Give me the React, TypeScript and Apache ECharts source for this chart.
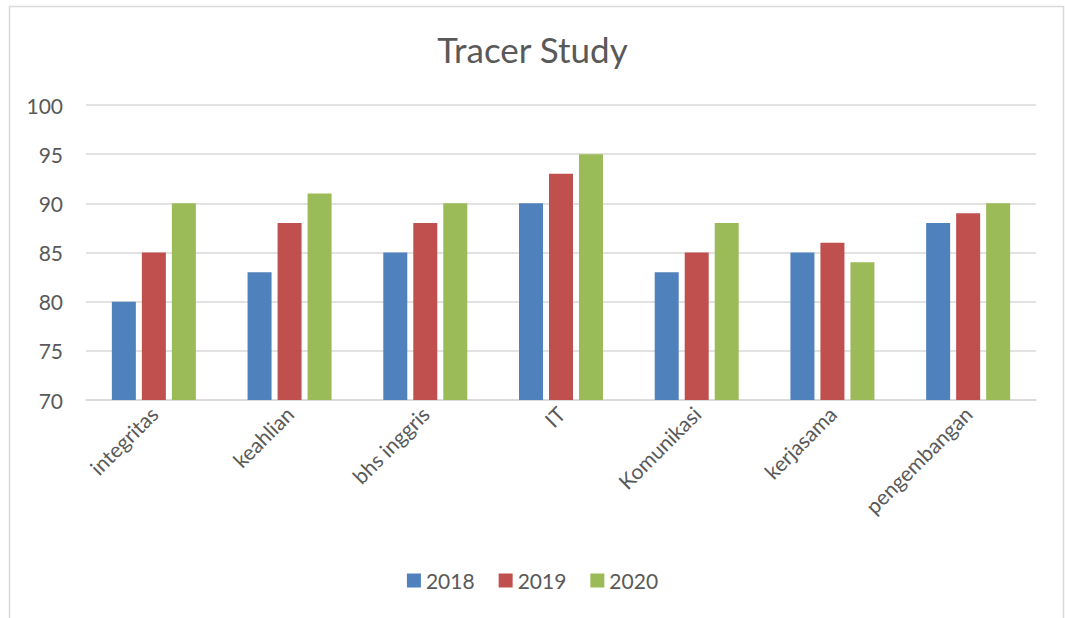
import React, { useEffect, useRef } from "react";
import * as echarts from "echarts";

const categories = ["integritas", "keahlian", "bhs inggris", "IT", "Komunikasi", "kerjasama", "pengembangan"];
const s2018 = [80, 83, 85, 90, 83, 85, 88];
const s2019 = [85, 88, 88, 93, 85, 86, 89];
const s2020 = [90, 91, 90, 95, 88, 84, 90];
const seriesNames = ["2018", "2019", "2020"];
const colors = ["#4F81BD", "#C0504D", "#9BBB59"];

export default function App() {
  const ref = useRef<HTMLDivElement>(null);
  useEffect(() => {
    if (!ref.current) return;
    const chart = echarts.init(ref.current, undefined, { renderer: "svg" });
    const font = "Lato, 'Open Sans', sans-serif";
    const data = [s2018, s2019, s2020];
    chart.setOption({
      animation: false,
      backgroundColor: "#ffffff",
      textStyle: { fontFamily: font },
      title: {
        text: "Tracer Study",
        left: "center",
        top: 26,
        textStyle: { fontSize: 35, fontWeight: "normal", color: "#595959", fontFamily: font },
      },
      graphic: [
        {
          type: "rect",
          shape: { x: 9.5, y: 6.5, width: 1054, height: 640 },
          style: { fill: "none", stroke: "#d9d9d9", lineWidth: 1.5 },
          silent: true,
        },
      ],
      legend: {
        bottom: 22,
        left: "center",
        itemWidth: 14,
        itemHeight: 14,
        itemGap: 24,
        icon: "rect",
        textStyle: { fontSize: 21, color: "#595959", fontFamily: font },
        data: seriesNames,
      },
      grid: { left: 86, right: 29, top: 105, bottom: 218, containLabel: false },
      xAxis: {
        type: "category",
        data: categories,
        axisLine: { lineStyle: { color: "#d9d9d9", width: 1.5 } },
        axisTick: { show: false },
        axisLabel: { rotate: 45, fontSize: 21, color: "#595959", margin: 10, interval: 0, fontFamily: font },
      },
      yAxis: {
        type: "value",
        min: 70,
        max: 100,
        interval: 5,
        axisLine: { show: false },
        axisTick: { show: false },
        splitLine: { lineStyle: { color: "#d9d9d9", width: 1.5 } },
        axisLabel: { fontSize: 21, color: "#595959", margin: 23, fontFamily: font },
      },
      series: seriesNames.map((name, i) => ({
        name,
        type: "bar",
        data: data[i],
        barWidth: 24,
        barGap: "25%",
        itemStyle: { color: colors[i] },
      })),
    });
    return () => chart.dispose();
  }, []);
  return <div ref={ref} style={{ position: "absolute", left: 0, top: 0, width: 1065, height: 618 }} />;
}
